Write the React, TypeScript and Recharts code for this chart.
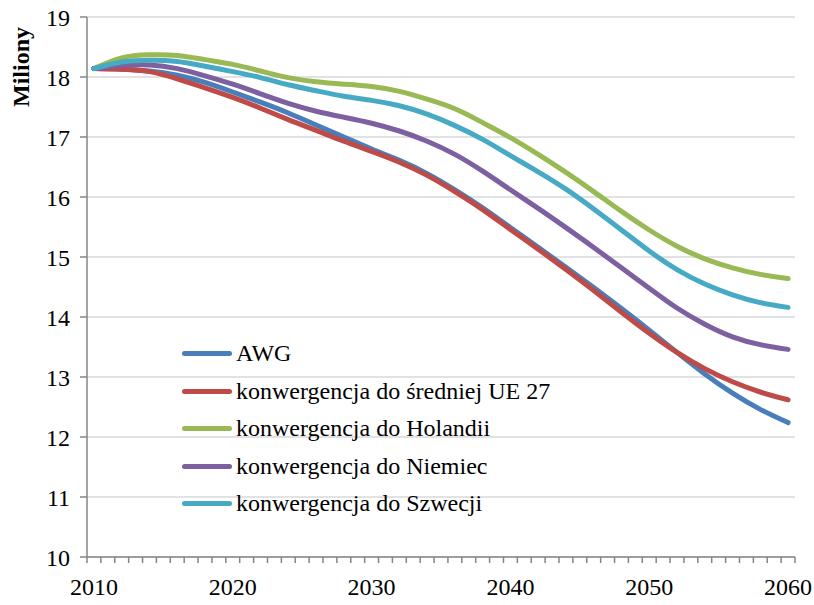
import { LineChart, Line, XAxis, YAxis, CartesianGrid, Legend } from "recharts"

const FONT = "'Times New Roman', 'Liberation Serif', serif"

const years = [
  2010, 2012, 2014, 2016, 2018, 2020, 2022, 2024, 2026, 2028, 2030, 2032, 2034,
  2036, 2038, 2040, 2042, 2044, 2046, 2048, 2050, 2052, 2054, 2056, 2058, 2060,
]

// population projections, millions
const awg = [
  18.14, 18.13, 18.1, 18.03, 17.91, 17.75, 17.58, 17.4, 17.2, 17.0, 16.8, 16.61, 16.39,
  16.12, 15.82, 15.49, 15.16, 14.83, 14.49, 14.14, 13.78, 13.41, 13.05, 12.73, 12.46, 12.24,
]
const ue27 = [
  18.14, 18.13, 18.09, 17.97, 17.82, 17.66, 17.48, 17.29, 17.11, 16.93, 16.76, 16.58, 16.36,
  16.09, 15.79, 15.46, 15.13, 14.79, 14.44, 14.08, 13.73, 13.41, 13.14, 12.92, 12.75, 12.62,
]
const holandia = [
  18.14, 18.32, 18.37, 18.36, 18.29, 18.21, 18.1, 17.99, 17.92, 17.88, 17.84, 17.76, 17.63,
  17.47, 17.24, 16.99, 16.71, 16.41, 16.09, 15.76, 15.45, 15.18, 14.97, 14.82, 14.71, 14.64,
]
const niemcy = [
  18.14, 18.19, 18.2, 18.14, 18.02, 17.88, 17.72, 17.56, 17.43, 17.33, 17.23, 17.1, 16.93,
  16.71, 16.43, 16.12, 15.81, 15.49, 15.16, 14.82, 14.48, 14.15, 13.88, 13.67, 13.54, 13.46,
]
const szwecja = [
  18.14, 18.25, 18.28, 18.26, 18.18, 18.09, 17.99, 17.87, 17.77, 17.68, 17.61, 17.52, 17.38,
  17.19, 16.96, 16.69, 16.42, 16.13, 15.8, 15.45, 15.1, 14.79, 14.55, 14.37, 14.24, 14.16,
]

const yearLabels = [2010, 2020, 2030, 2040, 2050, 2060]
const yTicks = [10, 11, 12, 13, 14, 15, 16, 17, 18, 19]

const series = [
  { key: "awg", name: "AWG", color: "#4A7EBB" },
  { key: "ue27", name: "konwergencja do średniej UE 27", color: "#BE4B48" },
  { key: "holandia", name: "konwergencja do Holandii", color: "#98B954" },
  { key: "niemcy", name: "konwergencja do Niemiec", color: "#7D60A0" },
  { key: "szwecja", name: "konwergencja do Szwecji", color: "#46AAC5" },
]

const data = years.map((year, i) => ({
  year,
  awg: awg[i],
  ue27: ue27[i],
  holandia: holandia[i],
  niemcy: niemcy[i],
  szwecja: szwecja[i],
}))

// each year is one category slot: small marks on the slot edges, labels in the middle
const slotEdges = Array.from({ length: 52 }, (_, i) => 2009.5 + i)
const xTicks = [...slotEdges, ...yearLabels]

function YearTick({ x, y, payload }: any) {
  const v = payload.value
  if (yearLabels.includes(v)) {
    return (
      <text x={x} y={y + 38} textAnchor="middle" fontSize={24} fontFamily={FONT} fill="#000">
        {v}
      </text>
    )
  }
  return <line x1={x} x2={x} y1={y} y2={y + 6} stroke="#868686" strokeWidth={1.5} />
}

function AxisTitle() {
  return (
    <text
      x={29}
      y={67}
      transform="rotate(-90 29 67)"
      textAnchor="middle"
      fontSize={24}
      fontWeight="bold"
      fontFamily={FONT}
      fill="#000"
    >
      Miliony
    </text>
  )
}

function LegendBox() {
  return (
    <div style={{ fontFamily: FONT, fontSize: 24, color: "#000" }}>
      {series.map((s) => (
        <div key={s.key} style={{ display: "flex", alignItems: "center", height: 37.5 }}>
          <span
            style={{
              display: "inline-block",
              width: 50,
              height: 5,
              borderRadius: 3,
              background: s.color,
              marginRight: 4,
            }}
          />
          <span style={{ whiteSpace: "nowrap" }}>{s.name}</span>
        </div>
      ))}
    </div>
  )
}

export default function App() {
  return (
    <div style={{ position: "absolute", left: 0, top: 0, background: "#fff" }}>
      <LineChart width={814} height={605} data={data} margin={{ top: 17, right: 19, left: 0, bottom: 0 }}>
        <CartesianGrid vertical={false} stroke="#D9D9D9" strokeWidth={1.5} />
        <XAxis
          dataKey="year"
          type="number"
          domain={[2009.5, 2060.5]}
          ticks={xTicks}
          interval={0}
          tick={<YearTick />}
          tickLine={false}
          tickSize={0}
          tickMargin={0}
          height={48}
          axisLine={{ stroke: "#868686", strokeWidth: 1.5 }}
        />
        <YAxis
          domain={[10, 19]}
          ticks={yTicks}
          interval={0}
          width={87}
          tickSize={7}
          tickMargin={10}
          tick={{ fontSize: 24, fontFamily: FONT, fill: "#000" }}
          tickLine={{ stroke: "#868686", strokeWidth: 1.5 }}
          axisLine={{ stroke: "#868686", strokeWidth: 1.5 }}
          label={<AxisTitle />}
        />
        <Legend
          layout="vertical"
          align="center"
          verticalAlign="middle"
          wrapperStyle={{ left: 182, top: 335, width: "auto" }}
          content={() => <LegendBox />}
        />
        {series.map((s) => (
          <Line
            key={s.key}
            dataKey={s.key}
            name={s.name}
            type="natural"
            stroke={s.color}
            strokeWidth={5}
            strokeLinecap="round"
            dot={false}
            activeDot={false}
            isAnimationActive={false}
          />
        ))}
      </LineChart>
    </div>
  )
}
